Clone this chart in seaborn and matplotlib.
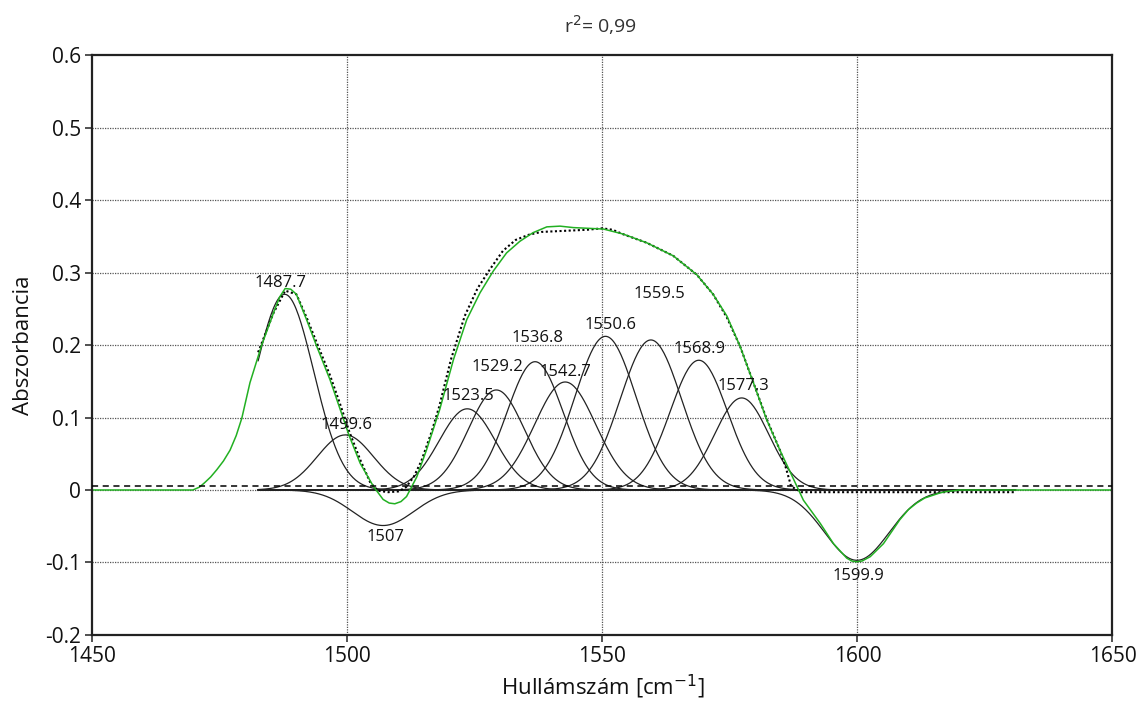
import numpy as np
import pandas as pd
import matplotlib
matplotlib.use("Agg")
import matplotlib.pyplot as plt
import seaborn as sns

# ---------------- data ----------------
# fitted band components: centre (cm-1), height (absorbance), width (sigma, cm-1)
band_centers = [1487.7, 1499.6, 1507.0, 1523.5, 1529.2, 1536.8, 1542.7,
                1550.6, 1559.5, 1568.9, 1577.3, 1599.9]
band_heights = [0.270, 0.076, -0.049, 0.112, 0.138, 0.177, 0.149,
                0.212, 0.207, 0.179, 0.127, -0.097]
band_sigmas = [5.7, 5.5, 6.0, 5.5, 5.5, 5.5, 6.0, 6.0, 6.0, 5.6, 5.3, 6.3]
band_labels = ["1487.7", "1499.6", "1507", "1523.5", "1529.2", "1536.8",
               "1542.7", "1550.6", "1559.5", "1568.9", "1577.3", "1599.9"]
label_x = [1486.8, 1499.8, 1507.4, 1523.7, 1529.4, 1537.3, 1542.8,
           1551.6, 1561.2, 1569.1, 1577.6, 1600.1]
label_y = [0.285, 0.090, -0.065, 0.129, 0.169, 0.209, 0.163,
           0.227, 0.271, 0.195, 0.144, -0.118]
band_range = (1482.5, 1631.0)

# green spectrum
green_x = [1450, 1469.7, 1471.0, 1472.0, 1473.2, 1474.4, 1475.7, 1477.0, 1478.2,
           1479.3, 1480.9, 1483.2, 1485.5,
           1486.7, 1487.8, 1488.9, 1490.0, 1492.0, 1494.0, 1496.6, 1498.5, 1500.4,
           1502.5, 1505.1, 1507.0, 1508.2, 1509.3, 1510.5, 1511.6, 1513.6, 1515.5,
           1518.1, 1520.8, 1523.4, 1526.0, 1528.6, 1531.2, 1533.8, 1536.4, 1539.1,
           1541.7, 1544.3, 1550.2, 1554.1, 1558.7, 1563.9, 1568.5, 1571.7, 1574.4,
           1577.0, 1579.6, 1582.2, 1584.8, 1587.4, 1589.4, 1592.7, 1595.3, 1597.9,
           1598.9, 1599.8, 1600.9, 1602.5, 1605.1, 1608.3, 1610.0, 1611.6, 1613.2,
           1614.9, 1616.2, 1617.5, 1620.0, 1650]
green_y = [0.0, 0.0, 0.004, 0.010, 0.018, 0.028, 0.040, 0.055, 0.075,
           0.099, 0.148, 0.200, 0.244,
           0.266, 0.278, 0.277, 0.270, 0.235, 0.198, 0.152, 0.113, 0.074,
           0.037, 0.005, -0.013, -0.018, -0.019, -0.016, -0.009, 0.018, 0.055,
           0.111, 0.180, 0.235, 0.272, 0.302, 0.327, 0.343, 0.355, 0.363,
           0.364, 0.362, 0.360, 0.353, 0.341, 0.323, 0.297, 0.270, 0.240,
           0.198, 0.148, 0.097, 0.055, 0.016, -0.014, -0.046, -0.074, -0.094,
           -0.098, -0.099, -0.098, -0.092, -0.074, -0.041, -0.027, -0.018, -0.011,
           -0.007, -0.004, -0.002, 0.0, 0.0]

# black dotted measured spectrum
meas_x = [1482.5, 1485.5, 1487.8, 1490.0, 1492.0, 1494.0, 1496.6, 1498.5, 1500.4,
          1502.5, 1504.5, 1506.0, 1508.0, 1510.0, 1511.5, 1513.0, 1514.5, 1516.5,
          1518.0, 1520.3, 1523.0, 1525.5, 1528.0, 1530.5, 1533.0, 1535.5, 1538.0,
          1541.0, 1544.0, 1547.0, 1550.0, 1552.0, 1554.0, 1558.7, 1563.9, 1568.5,
          1571.7, 1574.4, 1577.0, 1579.6, 1582.2, 1584.8, 1586.0, 1587.0, 1589.0,
          1631.0]
meas_y = [0.190, 0.244, 0.275, 0.270, 0.238, 0.203, 0.158, 0.120, 0.080,
          0.042, 0.010, -0.001, -0.003, -0.002, 0.004, 0.018, 0.040, 0.080,
          0.115, 0.180, 0.240, 0.278, 0.305, 0.330, 0.345, 0.352, 0.356,
          0.357, 0.358, 0.359, 0.361, 0.359, 0.353, 0.341, 0.323, 0.297,
          0.270, 0.238, 0.198, 0.148, 0.098, 0.055, 0.030, 0.005, -0.003,
          -0.003]

baseline_level = 0.005

x_ticks = [1450, 1500, 1550, 1600, 1650]
x_ticklabels = ["1450", "1500", "1550", "1600", "1650"]
y_ticks = [-0.2, -0.1, 0.0, 0.1, 0.2, 0.3, 0.4, 0.5, 0.6]
y_ticklabels = ["-0.2", "-0.1", "0", "0.1", "0.2", "0.3", "0.4", "0.5", "0.6"]

# ---------------- build frames ----------------
grid = np.linspace(band_range[0], band_range[1], 600)
rows = []
for c, h, s, lab in zip(band_centers, band_heights, band_sigmas, band_labels):
    vals = h * np.exp(-(grid - c) ** 2 / (2 * s ** 2))
    rows.append(pd.DataFrame({"x": grid, "y": vals, "band": lab}))
bands_df = pd.concat(rows, ignore_index=True)
green_df = pd.DataFrame({"x": green_x, "y": green_y})
meas_df = pd.DataFrame({"x": meas_x, "y": meas_y})

# ---------------- plot ----------------
sns.set_theme(style="white")
plt.rcParams["font.family"] = ["Open Sans", "DejaVu Sans"]

fig = plt.figure(figsize=(11.43, 7.06), dpi=100)
ax = fig.add_axes([0.0808, 0.1006, 0.8925, 0.8214])

sns.lineplot(data=bands_df, x="x", y="y", hue="band",
             palette=["#222222"] * len(band_labels), estimator=None,
             legend=False, linewidth=0.9, ax=ax, sort=False)
sns.lineplot(data=meas_df, x="x", y="y", color="black", linestyle=(0, (1, 1.2)),
             linewidth=1.5, estimator=None, ax=ax, sort=False)
ax.axhline(baseline_level, color="black", linestyle=(0, (4, 3)), linewidth=1.1, zorder=3)
sns.lineplot(data=green_df, x="x", y="y", color="#22b022", linewidth=1.1,
             estimator=None, ax=ax, sort=False)

for lx, ly, lab in zip(label_x, label_y, band_labels):
    ax.text(lx, ly, lab, ha="center", va="center", fontsize=12, color="#111111", zorder=5)

ax.set_xlim(1450, 1650)
ax.set_ylim(-0.2, 0.6)
ax.set_xticks(x_ticks)
ax.set_xticklabels(x_ticklabels, fontsize=15, color="#111111")
ax.set_yticks(y_ticks)
ax.set_yticklabels(y_ticklabels, fontsize=15, color="#111111")
ax.tick_params(axis="both", direction="out", length=5, width=1.2, color="#333333",
               bottom=True, left=True, pad=3)

for v in [1500, 1550, 1600]:
    ax.axvline(v, color="#555555", linestyle=(0, (1, 1)), linewidth=0.9, zorder=0)
for v in y_ticks[1:-1]:
    ax.axhline(v, color="#555555", linestyle=(0, (1, 1)), linewidth=0.9, zorder=0)

for sp in ax.spines.values():
    sp.set_visible(True)
    sp.set_color("#222222")
    sp.set_linewidth(1.6)

ax.set_xlabel("Hullámszám [cm$^{-1}$]", fontsize=16, color="#111111", labelpad=4)
ax.set_ylabel("Abszorbancia", fontsize=16, color="#111111", labelpad=8)

fig.text(0.525, 0.965, "r$^{2}$= 0,99", ha="center", va="center", fontsize=14, color="#333333")

fig.savefig("out.png", dpi=100)
